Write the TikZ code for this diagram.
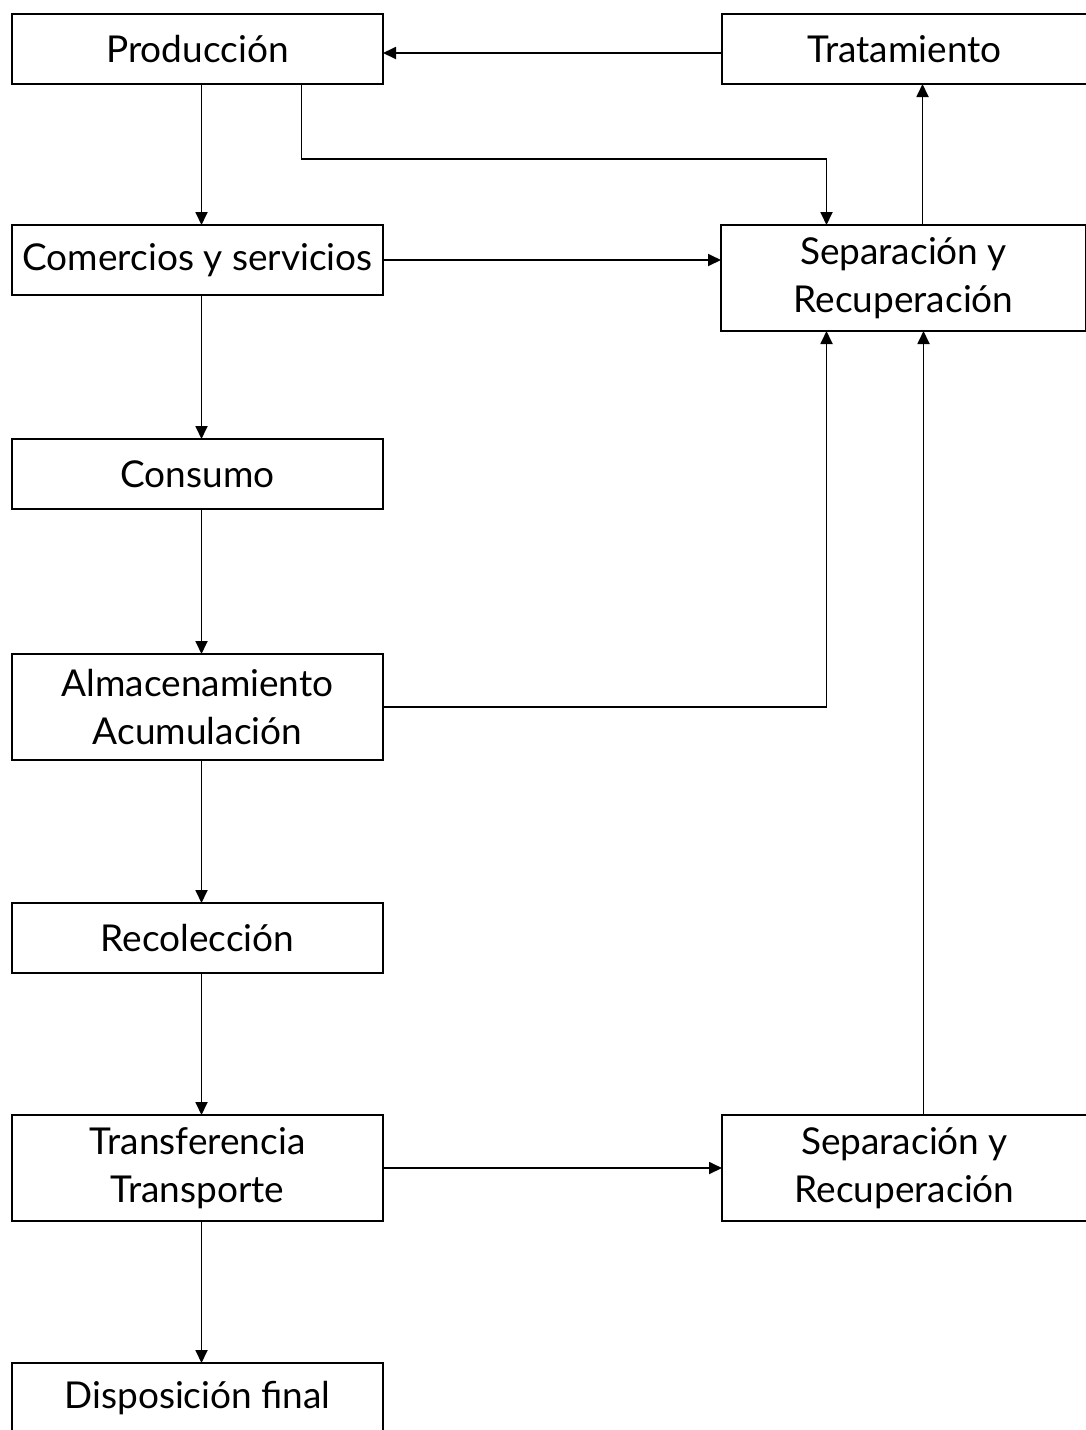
\documentclass[tikz,border=0pt]{standalone}
\usepackage{fontspec}
\setmainfont{Lato}
\usetikzlibrary{positioning, arrows.meta}

\begin{document}
\begin{tikzpicture}[
    >={Triangle[length=13pt,width=12pt]},
    % Styles
    box/.style={
        rectangle,
        draw,
        line width=1.8pt,
        inner sep=0pt,
        outer sep=0pt,
        minimum width=371pt,
        minimum height=70pt,
        align=center,
        font=\fontsize{37}{48}\selectfont
    },
    tall/.style={
        box,
        minimum height=106pt
    },
    side/.style={
        minimum width=365pt
    },
    arrow/.style={
        ->,
        line width=1.8pt
    }
]
    \useasboundingbox (0,0) rectangle (1085pt,-1430pt);

    % Boxes, left column
    \node[box, anchor=north west] (prod) at (12pt,-14pt) {Producción};
    \node[box, below=141pt of prod] (com) {Comercios y servicios};
    \node[box, below=144pt of com] (cons) {Consumo};
    \node[tall, below=145pt of cons] (alm) {Almacenamiento\\Acumulación};
    \node[box, below=143pt of alm] (rec) {Recolección};
    \node[tall, below=142pt of rec] (trans) {Transferencia\\Transporte};
    \node[box, below=142pt of trans] (disp) {Disposición final};

    % Boxes, right column
    \node[box, side, right=339pt of prod] (trat) {Tratamiento};
    \node[tall, side, right=338pt of com.north east, anchor=north west] (sepa) {Separación y\\Recuperación};
    \node[tall, side, right=339pt of trans] (sepb) {Separación y\\Recuperación};

    % Paths
    \draw[arrow] ([yshift=-4pt]trat.west) -- ([yshift=-4pt]prod.east);
    \draw[arrow] ([xshift=4pt]prod.south) -- ([xshift=4pt]com.north);
    \draw[arrow] ([xshift=104pt]prod.south) -- ++(0,-75pt) -| ([xshift=-77pt]sepa.north);
    \draw[arrow] (com.east) -- (com.east -| sepa.west);
    \draw[arrow] ([xshift=19pt]sepa.north) -- ([xshift=19pt]sepa.north |- trat.south);
    \draw[arrow] ([xshift=4pt]com.south) -- ([xshift=4pt]cons.north);
    \draw[arrow] ([xshift=4pt]cons.south) -- ([xshift=4pt]alm.north);
    \draw[arrow] (alm.east) -| ([xshift=-77pt]sepa.south);
    \draw[arrow] ([xshift=4pt]alm.south) -- ([xshift=4pt]rec.north);
    \draw[arrow] ([xshift=4pt]rec.south) -- ([xshift=4pt]trans.north);
    \draw[arrow] (trans) -- (sepb);
    \draw[arrow] ([xshift=19pt]sepb.north) -- ([xshift=19pt]sepb.north |- sepa.south);
    \draw[arrow] ([xshift=4pt]trans.south) -- ([xshift=4pt]disp.north);
\end{tikzpicture}
\end{document}
